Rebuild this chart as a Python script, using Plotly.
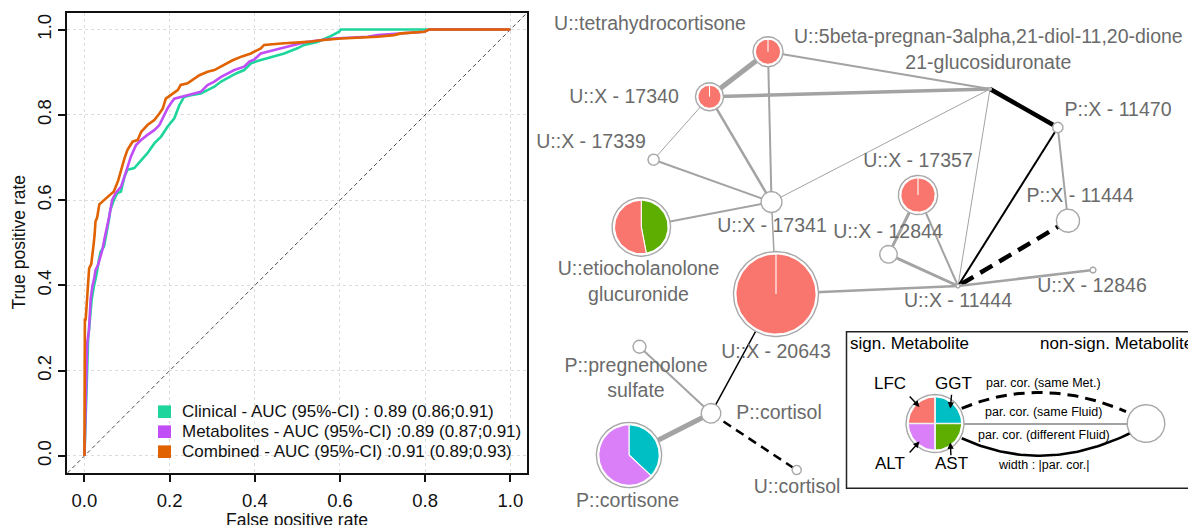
import numpy as np
import plotly.graph_objects as go

# reference canvas size; the page body adds an 8px margin, so the figure is drawn 8px smaller
W, H = 1196, 525
OFF = 8
FW, FH = W - OFF, H - OFF

# ---------------- ROC data ----------------
roc_names = ["Clinical - AUC (95%-CI) : 0.89 (0.86;0.91)",
             "Metabolites - AUC (95%-CI) :0.89 (0.87;0.91)",
             "Combined - AUC (95%-CI) :0.91 (0.89;0.93)"]
roc_colors = ["#1ED69C", "#C04DF5", "#E06200"]

clinical_fpr = [0, 0.004, 0.0066, 0.0087, 0.012, 0.017, 0.022, 0.028, 0.034, 0.038, 0.046, 0.051,
                0.056, 0.061, 0.069, 0.077, 0.0857, 0.094, 0.101, 0.117, 0.133, 0.148, 0.164, 0.180,
                0.195, 0.211, 0.223, 0.234, 0.250, 0.273, 0.289, 0.305, 0.321, 0.336, 0.356, 0.375,
                0.391, 0.406, 0.438, 0.469, 0.500, 0.516, 0.547, 0.575, 0.598, 0.602, 1.0]
clinical_tpr = [0, 0.15, 0.186, 0.273, 0.311, 0.366, 0.397, 0.424, 0.460, 0.479, 0.491, 0.514,
                0.545, 0.577, 0.600, 0.616, 0.620, 0.655, 0.671, 0.675, 0.694, 0.710, 0.733, 0.749,
                0.772, 0.792, 0.823, 0.842, 0.846, 0.850, 0.858, 0.866, 0.878, 0.886, 0.897, 0.905,
                0.921, 0.926, 0.936, 0.944, 0.956, 0.964, 0.971, 0.983, 0.995, 1.0, 1.0]

metab_fpr = [0, 0.003, 0.0044, 0.0066, 0.0106, 0.0145, 0.0184, 0.0223, 0.026, 0.032, 0.038, 0.042,
             0.048, 0.054, 0.058, 0.0614, 0.065, 0.073, 0.080, 0.0857, 0.094, 0.101, 0.109, 0.121,
             0.133, 0.148, 0.164, 0.176, 0.184, 0.195, 0.203, 0.211, 0.242, 0.273, 0.289, 0.305,
             0.321, 0.336, 0.352, 0.375, 0.387, 0.399, 0.414, 0.446, 0.477, 0.508, 0.520, 0.586,
             0.665, 0.688, 0.735, 0.798, 0.809, 1.0]
metab_tpr = [0, 0.17, 0.18, 0.265, 0.295, 0.366, 0.397, 0.413, 0.436, 0.448, 0.467, 0.483,
             0.514, 0.538, 0.561, 0.580, 0.600, 0.616, 0.624, 0.631, 0.655, 0.678, 0.702, 0.729,
             0.741, 0.753, 0.764, 0.776, 0.792, 0.815, 0.827, 0.838, 0.846, 0.854, 0.870, 0.878,
             0.889, 0.897, 0.905, 0.913, 0.925, 0.930, 0.944, 0.952, 0.960, 0.968, 0.971, 0.979,
             0.983, 0.987, 0.991, 0.995, 1.0, 1.0]

comb_fpr = [0, 0.001, 0.003, 0.005, 0.007, 0.011, 0.016, 0.019, 0.022, 0.024, 0.026, 0.030, 0.035,
            0.046, 0.057, 0.069, 0.079, 0.086, 0.094, 0.101, 0.113, 0.125, 0.133, 0.148, 0.164,
            0.176, 0.184, 0.191, 0.203, 0.219, 0.226, 0.242, 0.270, 0.289, 0.305, 0.321, 0.336,
            0.348, 0.370, 0.391, 0.414, 0.422, 0.469, 0.524, 0.555, 0.602, 0.688, 0.727, 0.743,
            0.798, 0.809, 1.0]
comb_tpr = [0, 0.32, 0.32, 0.35, 0.40, 0.44, 0.45, 0.47, 0.50, 0.52, 0.55, 0.56, 0.59,
            0.60, 0.61, 0.62, 0.645, 0.671, 0.698, 0.718, 0.737, 0.741, 0.760, 0.776, 0.788,
            0.803, 0.815, 0.838, 0.846, 0.858, 0.870, 0.874, 0.893, 0.901, 0.905, 0.913, 0.922,
            0.928, 0.937, 0.944, 0.956, 0.964, 0.968, 0.971, 0.975, 0.979, 0.983, 0.987, 0.991,
            0.995, 1.0, 1.0]

roc_ticks = [0, 0.2, 0.4, 0.6, 0.8, 1.0]
roc_ticktext = ["0.0", "0.2", "0.4", "0.6", "0.8", "1.0"]

# ---------------- Network data (layout positions in canvas pixels) ----------------
node_ids = ["thc", "b5", "x17340", "x17339", "px11470", "x17357", "px11444", "x17341", "etio",
            "x12844", "ux11444", "x12846", "x20643", "ppreg", "pcortisol", "pcortisone", "ucortisol"]
node_x = [768, 990, 709.5, 653.6, 1057.8, 918, 1068, 771.5, 641.3, 888.5, 958, 1093, 776, 639.5, 711, 629, 796.7]
node_y = [51.7, 89, 96.7, 159.7, 127.5, 195, 220.7, 202, 227, 254.3, 286, 270, 294, 346.7, 413.3, 455, 470]
node_r = [15, 1.5, 14, 5.6, 5.2, 19.6, 11.6, 10.5, 29.2, 8.8, 2.0, 3.0, 42.5, 6.5, 9.8, 32.6, 4.6]
# pie fractions (clockwise from 12 o'clock: GGT, AST, ALT, LFC)
pie_ggt = [0, 0, 0, 0, 0, 0, 0, 0, 0, 0, 0, 0, 0, 0, 0, 0.37, 0]
pie_ast = [0, 0, 0, 0, 0, 0, 0, 0, 0.47, 0, 0, 0, 0, 0, 0, 0, 0]
pie_alt = [0, 0, 0, 0, 0, 0, 0, 0, 0, 0, 0, 0, 0, 0, 0, 0.63, 0]
pie_lfc = [1, 0, 1, 0, 0, 1, 0, 0, 0.53, 0, 0, 0, 1, 0, 0, 0, 0]

label_text = ["U::tetrahydrocortisone",
              "U::5beta-pregnan-3alpha,21-diol-11,20-dione<br>21-glucosiduronate",
              "U::X - 17340", "U::X - 17339", "P::X - 11470", "U::X - 17357", "P::X - 11444",
              "U::X - 17341", "U::etiocholanolone<br>glucuronide", "U::X - 12844", "U::X - 11444",
              "U::X - 12846", "U::X - 20643", "P::pregnenolone<br>sulfate", "P::cortisol",
              "P::cortisone", "U::cortisol"]
label_x = [650, 988.3, 624, 591, 1118, 918, 1080, 772, 638.5, 888, 958, 1092, 776, 636, 779, 627.5, 797]
label_y = [25, 51.3, 98.3, 143, 110.7, 162.3, 196.7, 226.7, 283, 233.3, 301.7, 286.7, 353, 379.5, 414, 502, 488]

# edges: (from, to, width, colour-kind)
edge_from = ["thc", "thc", "thc", "x17340", "x17340", "x17340", "x17339", "x17341", "x17341", "x17341",
             "b5", "b5", "px11470", "px11470", "px11444", "x17357", "x17357", "x12844", "x20643",
             "ux11444", "x20643", "ppreg", "pcortisol", "pcortisol"]
edge_to = ["x17340", "b5", "x17341", "b5", "x17339", "x17341", "x17341", "b5", "etio", "x20643",
           "px11470", "ux11444", "ux11444", "px11444", "ux11444", "x12844", "ux11444", "ux11444", "ux11444",
           "x12846", "pcortisol", "pcortisol", "pcortisone", "ucortisol"]
edge_width = [5, 2, 2, 3.5, 1, 2.5, 2, 1, 2, 1.5, 4.5, 1, 2, 2, 4.5, 3, 2, 3, 2.5, 2.5, 1.5, 2, 5, 2.5]
edge_kind = ["same", "same", "same", "same", "same", "same", "same", "same", "same", "same",
             "diff", "same", "diff", "same", "met", "same", "same", "same", "same", "same",
             "diff", "same", "same", "met"]

# legend of the network
leg_pie_labels = ["GGT", "AST", "ALT", "LFC"]
leg_pie_frac = [0.25, 0.25, 0.25, 0.25]

slice_colors = {"GGT": "#00BFC4", "AST": "#5DAE00", "ALT": "#DA7FF8", "LFC": "#F9766E"}
edge_colors = {"same": "#A3A3A3", "diff": "#000000", "met": "#000000"}

FONT = "Liberation Sans, Arial, Helvetica, sans-serif"


def px(x):   # reference pixel x -> paper fraction
    return (x - OFF) / FW


def py(y):   # reference pixel y -> paper fraction
    return (H - y) / FH


# ---------------- figure ----------------
fig = go.Figure()

fig.add_trace(go.Scatter(x=[-0.04, 1.04], y=[-0.04, 1.04], mode="lines",
                         line=dict(color="#4a4a4a", width=1, dash="4px,3px"),
                         hoverinfo="skip", showlegend=False))
for fx, ty, nm, col in zip([clinical_fpr, metab_fpr, comb_fpr], [clinical_tpr, metab_tpr, comb_tpr],
                           roc_names, roc_colors):
    fig.add_trace(go.Scatter(x=fx, y=ty, mode="lines", name=nm,
                             line=dict(color=col, width=2.6), showlegend=False))

box_l, box_r, box_t, box_b = 67.4, 527.4, 12.5, 473
fig.update_layout(
    xaxis=dict(domain=[px(box_l), px(box_r)], range=[-0.04, 1.04], tickvals=roc_ticks, ticktext=roc_ticktext,
               showline=True, mirror=True, linecolor="#111", linewidth=2, ticks="outside", ticklen=7,
               tickwidth=1.5, tickcolor="#111", showgrid=True, gridcolor="#dcdcdc", griddash="dot",
               gridwidth=1, zeroline=False, tickfont=dict(size=18.5, color="#111", family=FONT),
               anchor="y", ticklabelstandoff=3),
    yaxis=dict(domain=[py(box_b), py(box_t)], range=[-0.04, 1.04], tickvals=roc_ticks,
               ticktext=roc_ticktext, showline=True, mirror=True, linecolor="#111", linewidth=2,
               ticks="outside", ticklen=7, tickwidth=1.5, tickcolor="#111", showgrid=True,
               gridcolor="#dcdcdc", griddash="dot", gridwidth=1, zeroline=False, tickangle=-90,
               tickfont=dict(size=18.5, color="#111", family=FONT), anchor="x"),
    xaxis2=dict(domain=[px(530), 1], range=[530, W], visible=False, anchor="y2", fixedrange=True),
    yaxis2=dict(domain=[0, 1], range=[H, OFF], visible=False, anchor="x2", fixedrange=True),
)

annotations = []
shapes = []
annotations.append(dict(text="False positive rate", x=px((box_l + box_r) / 2), y=py(520),
                        xref="paper", yref="paper", showarrow=False, xanchor="center", yanchor="middle",
                        font=dict(size=17.5, color="#111", family=FONT)))
annotations.append(dict(text="True positive rate", x=px(19), y=py(242.5), textangle=-90,
                        xref="paper", yref="paper", showarrow=False, xanchor="center", yanchor="middle",
                        font=dict(size=17.5, color="#111", family=FONT)))
for k, (nm, col) in enumerate(zip(roc_names, roc_colors)):
    yc = 411.7 + 20 * k
    shapes.append(dict(type="rect", xref="paper", yref="paper", x0=px(158), x1=px(171),
                       y0=py(yc + 6.3), y1=py(yc - 6.3), fillcolor=col, line=dict(width=0)))
    annotations.append(dict(text=nm, x=px(179.5), y=py(yc), xref="paper", yref="paper",
                            showarrow=False, xanchor="left", yanchor="middle",
                            font=dict(size=17, color="#111", family=FONT)))

# ---------------- network ----------------
idx = {n: i for i, n in enumerate(node_ids)}


def circle_xy(cx, cy, r, n=96):
    t = np.linspace(0, 2 * np.pi, n)
    return cx + r * np.sin(t), cy - r * np.cos(t)


def wedge_xy(cx, cy, r, a0, a1):
    n = max(int((a1 - a0) / (2 * np.pi) * 96), 2)
    t = np.linspace(a0, a1, n + 1)
    return (np.concatenate([[cx], cx + r * np.sin(t), [cx]]),
            np.concatenate([[cy], cy - r * np.cos(t), [cy]]))


def add_poly(xs, ys, fill, lcol, lw):
    fig.add_trace(go.Scatter(x=xs, y=ys, mode="lines", fill="toself", fillcolor=fill,
                             line=dict(color=lcol, width=lw), xaxis="x2", yaxis="y2",
                             hoverinfo="skip", showlegend=False))


def add_pie(cx, cy, r, fracs, labels):
    xs, ys = circle_xy(cx, cy, r)
    add_poly(xs, ys, "white", "#A8A8A8", 1.4)
    if sum(fracs) <= 0:
        return
    pr = r - 2.4
    a = 0.0
    for f, lab in zip(fracs, labels):
        if f <= 0:
            continue
        a1 = a + f * 2 * np.pi
        wx, wy = wedge_xy(cx, cy, pr, a, a1)
        add_poly(wx, wy, slice_colors[lab], "white", 1.1)
        a = a1


dash_map = {4.5: "14px,8px", 2.5: "9px,6px"}
for f, t, w, kind in zip(edge_from, edge_to, edge_width, edge_kind):
    i, j = idx[f], idx[t]
    dash = dash_map.get(w, "9px,6px") if kind == "met" else "solid"
    fig.add_trace(go.Scatter(x=[node_x[i], node_x[j]], y=[node_y[i], node_y[j]], mode="lines",
                             line=dict(color=edge_colors[kind], width=w, dash=dash),
                             xaxis="x2", yaxis="y2", hoverinfo="skip", showlegend=False))

for i in range(len(node_ids)):
    add_pie(node_x[i], node_y[i], node_r[i],
            [pie_ggt[i], pie_ast[i], pie_alt[i], pie_lfc[i]], ["GGT", "AST", "ALT", "LFC"])

fig.add_trace(go.Scatter(x=label_x, y=label_y, text=label_text, mode="text", textposition="middle center",
                         textfont=dict(size=19.5, color="#6a6a6a", family=FONT), cliponaxis=False,
                         xaxis="x2", yaxis="y2", hoverinfo="skip", showlegend=False))

# ---------------- network legend ----------------
shapes.append(dict(type="rect", xref="x2", yref="y2", x0=846.5, x1=1199, y0=331.7, y1=488.3,
                   line=dict(color="#222", width=1.5), fillcolor="rgba(0,0,0,0)"))


def bezier(p0, p1, p2, n=60):
    t = np.linspace(0, 1, n)
    xs = (1 - t) ** 2 * p0[0] + 2 * (1 - t) * t * p1[0] + t ** 2 * p2[0]
    ys = (1 - t) ** 2 * p0[1] + 2 * (1 - t) * t * p1[1] + t ** 2 * p2[1]
    return xs, ys


leg_sig = (935, 423.5, 29)
leg_non = (1146, 423.5, 18.8)
bx, by = bezier((961.7, 408.3), (1042, 375), (1126, 411.7))
fig.add_trace(go.Scatter(x=bx, y=by, mode="lines", line=dict(color="black", width=3, dash="11px,7px"),
                         xaxis="x2", yaxis="y2", hoverinfo="skip", showlegend=False))
fig.add_trace(go.Scatter(x=[leg_sig[0], leg_non[0]], y=[424, 424], mode="lines",
                         line=dict(color="#A3A3A3", width=2), xaxis="x2", yaxis="y2",
                         hoverinfo="skip", showlegend=False))
bx, by = bezier((961.7, 438.3), (1043, 475.5), (1130, 433.3))
fig.add_trace(go.Scatter(x=bx, y=by, mode="lines", line=dict(color="black", width=2.6),
                         xaxis="x2", yaxis="y2", hoverinfo="skip", showlegend=False))

add_pie(leg_sig[0], leg_sig[1], leg_sig[2], leg_pie_frac, leg_pie_labels)
fig.add_trace(go.Scatter(x=[leg_sig[0] - 26.6, leg_sig[0] + 26.6], y=[leg_sig[1], leg_sig[1]], mode="lines",
                         line=dict(color="#f0f0f0", width=1.6), xaxis="x2", yaxis="y2",
                         hoverinfo="skip", showlegend=False))
fig.add_trace(go.Scatter(x=[leg_sig[0], leg_sig[0]], y=[leg_sig[1] - 26.6, leg_sig[1] + 26.6], mode="lines",
                         line=dict(color="#f0f0f0", width=1.6), xaxis="x2", yaxis="y2",
                         hoverinfo="skip", showlegend=False))
add_pie(leg_non[0], leg_non[1], leg_non[2], [0, 0, 0, 0], leg_pie_labels)

leg_texts = ["sign. Metabolite", "non-sign. Metabolite", "LFC", "GGT", "ALT", "AST"]
leg_tx = [848.3, 1116.7, 890, 953.3, 890, 951.7]
leg_ty = [343.3, 343.3, 383.3, 383.3, 463.3, 463.3]
leg_anchor = ["left", "center", "center", "center", "center", "center"]
for s, x, y, a in zip(leg_texts, leg_tx, leg_ty, leg_anchor):
    annotations.append(dict(text=s, x=x, y=y, xref="x2", yref="y2", showarrow=False, xanchor=a,
                            yanchor="middle", font=dict(size=17, color="black", family=FONT)))

small_texts = ["par. cor. (same Met.)", "par. cor. (same Fluid)", "par. cor. (different Fluid)",
               "width : |par. cor.|"]
small_ty = [382.7, 412.3, 435, 465]
for s, y in zip(small_texts, small_ty):
    annotations.append(dict(text=s, x=1043.5, y=y, xref="x2", yref="y2", showarrow=False,
                            xanchor="center", yanchor="middle", font=dict(size=12.5, color="black", family=FONT)))

arrows = [(908.3, 395, 919.5, 407), (951.7, 393.3, 950.3, 408.5),
          (908.3, 454, 919.5, 441.5), (951, 456.7, 950.3, 442.5)]
for tx, ty, hx, hy in arrows:
    annotations.append(dict(text="", x=hx, y=hy, ax=tx, ay=ty, xref="x2", yref="y2", axref="x2", ayref="y2",
                            showarrow=True, arrowhead=2, arrowsize=0.9, arrowwidth=1.4, arrowcolor="black"))

fig.update_layout(width=FW, height=FH, margin=dict(l=0, r=0, t=0, b=0), paper_bgcolor="white",
                  plot_bgcolor="rgba(0,0,0,0)", showlegend=False, annotations=annotations, shapes=shapes,
                  font=dict(family=FONT))

fig.write_html("out.html")
